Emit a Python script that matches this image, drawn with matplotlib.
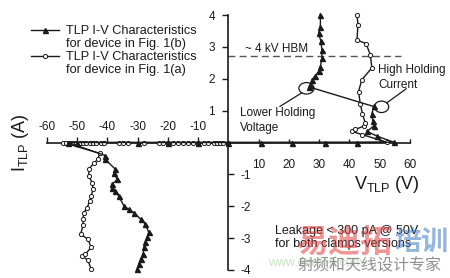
import matplotlib
matplotlib.use("Agg")
import matplotlib.pyplot as plt
from matplotlib.lines import Line2D
from matplotlib.patches import Ellipse

plt.rcParams['font.family'] = ['Liberation Sans', 'DejaVu Sans']
plt.rcParams['mathtext.fontset'] = 'custom'
plt.rcParams['mathtext.rm'] = 'Liberation Sans'
plt.rcParams['mathtext.it'] = 'Liberation Sans'

# ---------------- data (V in volts, I in amps) ----------------
# Device Fig. 1(a) - open circles
a_neg_v = [-45.3, -46.4, -48.3, -47.2, -45.3, -46.4, -48.8, -48.0, -48.0, -47.7,
           -46.6, -45.8, -45.3, -44.7, -45.0, -46.1, -46.1, -44.4, -43.1, -42.5, -54.6]
a_neg_i = [-3.97, -3.70, -3.55, -3.50, -3.29, -3.03, -2.88, -2.60, -2.40, -2.20,
           -2.04, -1.83, -1.68, -1.47, -1.26, -1.05, -0.84, -0.64, -0.53, -0.34, 0.0]
a_leak_v = [-53.5, -52.2, -51.2, -50.2, -48.9, -47.9, -46.9, -45.6, -44.6, -43.6,
            -42.2, -41.2, -36.2, -34.9, -33.2, -27.9, -22.9, -21.6, -19.9, -18.2,
            -16.6, -14.9, -13.2, -11.6, -9.9, -8.2, -6.6, -4.9, -3.9, -2.9, -1.9]
a_pos_v = [52.4, 44.1, 40.8, 41.9, 44.7, 45.2, 44.3, 43.6, 43.0, 44.1, 47.4, 46.9, 45.5, 42.5, 42.8, 42.5]
a_pos_i = [0.01, 0.25, 0.35, 0.41, 0.51, 0.62, 0.90, 1.20, 1.60, 1.97, 2.34, 2.75, 3.10, 3.22, 3.70, 4.00]

# Device Fig. 1(b) - filled triangles
b_neg_v = [-30.1, -29.6, -29.0, -28.2, -27.7, -27.4, -26.8, -26.3, -27.4, -29.0, -31.2,
           -32.9, -34.5, -36.2, -37.3, -38.4, -38.4, -36.7, -37.8, -37.3, -40.9, -40.6, -53.0]
b_neg_i = [-3.97, -3.81, -3.66, -3.50, -3.29, -3.13, -2.98, -2.82, -2.56, -2.40, -2.20,
           -2.10, -1.99, -1.68, -1.52, -1.42, -1.31, -1.16, -0.95, -0.84, -0.51, -0.41, 0.0]
b_leak_v = [-50.0, -30.0, -20.0, -10.0, 0.0, 10.8, 21.0, 32.0, 42.5]
b_pos_v = [54.6, 49.1, 45.8, 48.2, 47.7, 47.4, 48.0, 26.8, 27.1, 27.6, 28.7, 29.8,
           30.4, 30.9, 30.9, 30.6, 29.8, 30.4, 30.4]
b_pos_i = [0.01, 0.20, 0.35, 0.53, 0.67, 0.88, 1.13, 1.74, 1.81, 1.97, 2.09, 2.23,
           2.38, 2.65, 2.90, 3.17, 3.43, 3.63, 4.00]

x_major = [-60, -50, -40, -30, -20, -10]
x_minor = [10, 20, 30, 40, 50, 60]
y_major = [1, 2, 3, 4]
y_minor = [-1, -2, -3, -4]

hbm_level = 2.7

label_a = ["TLP I-V Characteristics", "for device in Fig. 1(a)"]
label_b = ["TLP I-V Characteristics", "for device in Fig. 1(b)"]

# ---------------- figure ----------------
fig = plt.figure(figsize=(4.5, 2.78), dpi=100)
ax = fig.add_axes([46.7 / 450, 8 / 278, 363.3 / 450, 255 / 278])
ax.set_xlim(-60, 60)
ax.set_ylim(-4, 4)

FS = 8.5

# assemble series
a_v = a_neg_v + a_leak_v + [0.0] + a_pos_v
a_i = a_neg_i + [0.0] * len(a_leak_v) + [0.0] + a_pos_i
b_v = b_neg_v + b_leak_v + b_pos_v
b_i = b_neg_i + [0.0] * len(b_leak_v) + b_pos_i

la, = ax.plot(a_v, a_i, color='#1a1a1a', lw=1.0, marker='o', ms=3.0,
              mfc='white', mec='#1a1a1a', mew=0.7, clip_on=False, zorder=4)
lb, = ax.plot(b_v, b_i, color='#1a1a1a', lw=1.0, marker='^', ms=3.6,
              mfc='#1a1a1a', mec='#1a1a1a', clip_on=False, zorder=5)

# dashed HBM line
ax.hlines(hbm_level, 0, 57, colors='#555555', linestyles=(0, (5, 3)), lw=1.0)

# spines through the origin
for s in ['left', 'bottom', 'top', 'right']:
    ax.spines[s].set_position(('data', 0))
ax.spines['top'].set_visible(False)
ax.spines['right'].set_visible(False)
ax.spines['left'].set_color('#1a1a1a')
ax.spines['bottom'].set_color('#1a1a1a')
ax.spines['left'].set_linewidth(1.2)
ax.spines['bottom'].set_linewidth(1.2)

ax.set_xticks(x_major, [str(v) for v in x_major])
ax.set_xticks(x_minor, [str(v) for v in x_minor], minor=True)
ax.set_yticks(y_major, [str(v) for v in y_major])
ax.set_yticks(y_minor, [str(v) for v in y_minor], minor=True)

ax.tick_params(axis='x', which='major', bottom=False, top=True, labelbottom=False,
               labeltop=True, direction='out', length=4.5, width=1.0, pad=2,
               labelsize=FS, colors='#1a1a1a')
ax.tick_params(axis='x', which='minor', bottom=True, top=False, labelbottom=True,
               labeltop=False, direction='in', length=3, width=1.0, pad=12,
               labelsize=FS, colors='#1a1a1a')
ax.tick_params(axis='y', which='major', left=True, right=False, labelleft=True,
               labelright=False, direction='out', length=4.5, width=1.0, pad=5,
               labelsize=FS, colors='#1a1a1a')
ax.tick_params(axis='y', which='minor', left=False, right=True, labelleft=False,
               labelright=True, direction='out', length=4, width=1.0, pad=5,
               labelsize=FS, colors='#1a1a1a')

ax.patch.set_visible(False)

# axis titles
ax.text(52.5, -1.32, r'V$_{\mathrm{TLP}}$ (V)', fontsize=13, ha='center', va='center',
        color='#1a1a1a', clip_on=False)
ax.text(-68.6, 0.0, r'I$_{\mathrm{TLP}}$ (A)', fontsize=13, ha='center', va='center',
        rotation=90, color='#1a1a1a', clip_on=False)

# annotations
ax.text(5.4, 2.92, '~ 4 kV HBM', fontsize=FS, ha='left', va='center', color='#1a1a1a')
ax.text(49.5, 2.04, 'High Holding\nCurrent', fontsize=FS, ha='left', va='center',
        color='#1a1a1a', linespacing=1.25, clip_on=False)
ax.text(3.8, 0.69, 'Lower Holding\nVoltage', fontsize=FS, ha='left', va='center',
        color='#1a1a1a', linespacing=1.25)
ax.text(15.5, -2.98, 'Leakage < 300 pA @ 50V\nfor both clamps versions', fontsize=9,
        ha='left', va='center', color='#1a1a1a', linespacing=1.2)

ax.add_patch(Ellipse((25.8, 1.70), 5.0, 0.36, fill=False, ec='#1a1a1a', lw=0.9, zorder=6))
ax.add_patch(Ellipse((50.6, 1.12), 4.7, 0.36, fill=False, ec='#1a1a1a', lw=0.9, zorder=6))
ax.annotate('', xy=(24.3, 1.56), xytext=(17.0, 1.13),
            arrowprops=dict(arrowstyle='-', color='#1a1a1a', lw=0.9, shrinkA=0, shrinkB=0))
ax.annotate('', xy=(58.8, 1.69), xytext=(52.3, 1.24),
            arrowprops=dict(arrowstyle='-', color='#1a1a1a', lw=0.9, shrinkA=0, shrinkB=0),
            annotation_clip=False)

# legend (handle aligned with first text line)
blank = Line2D([], [], linestyle='none')
leg = ax.legend([lb, blank, la, blank], label_b + label_a, loc='upper left',
                bbox_to_anchor=(31 / 450, 1 - 25 / 278), bbox_transform=fig.transFigure,
                frameon=False, fontsize=9.2, handlelength=2.2, handletextpad=0.5,
                labelspacing=0.08, borderpad=0, borderaxespad=0, numpoints=1)
for t in leg.get_texts():
    t.set_color('#1a1a1a')

# watermark
fig.text(296 / 450, 1 - 243 / 278, '易迪拓', fontsize=23, color='#e04040', alpha=0.55,
         family=['Noto Sans CJK SC'], weight='bold', ha='left', va='center')
fig.text(394 / 450, 1 - 242 / 278, '培训', fontsize=19.5, color='#3a78c8', alpha=0.55,
         family=['Noto Sans CJK SC'], weight='bold', ha='left', va='center')
fig.text(268 / 450, 1 - 263 / 278, 'www.edatop.com', fontsize=9, color='#a8d0a0',
         alpha=0.6, ha='left', va='center')
fig.text(297 / 450, 1 - 266 / 278, '射频和天线设计专家', fontsize=11.5, color='#909090',
         family=['Noto Sans CJK SC'], ha='left', va='center')

fig.savefig('out.png', dpi=100)
